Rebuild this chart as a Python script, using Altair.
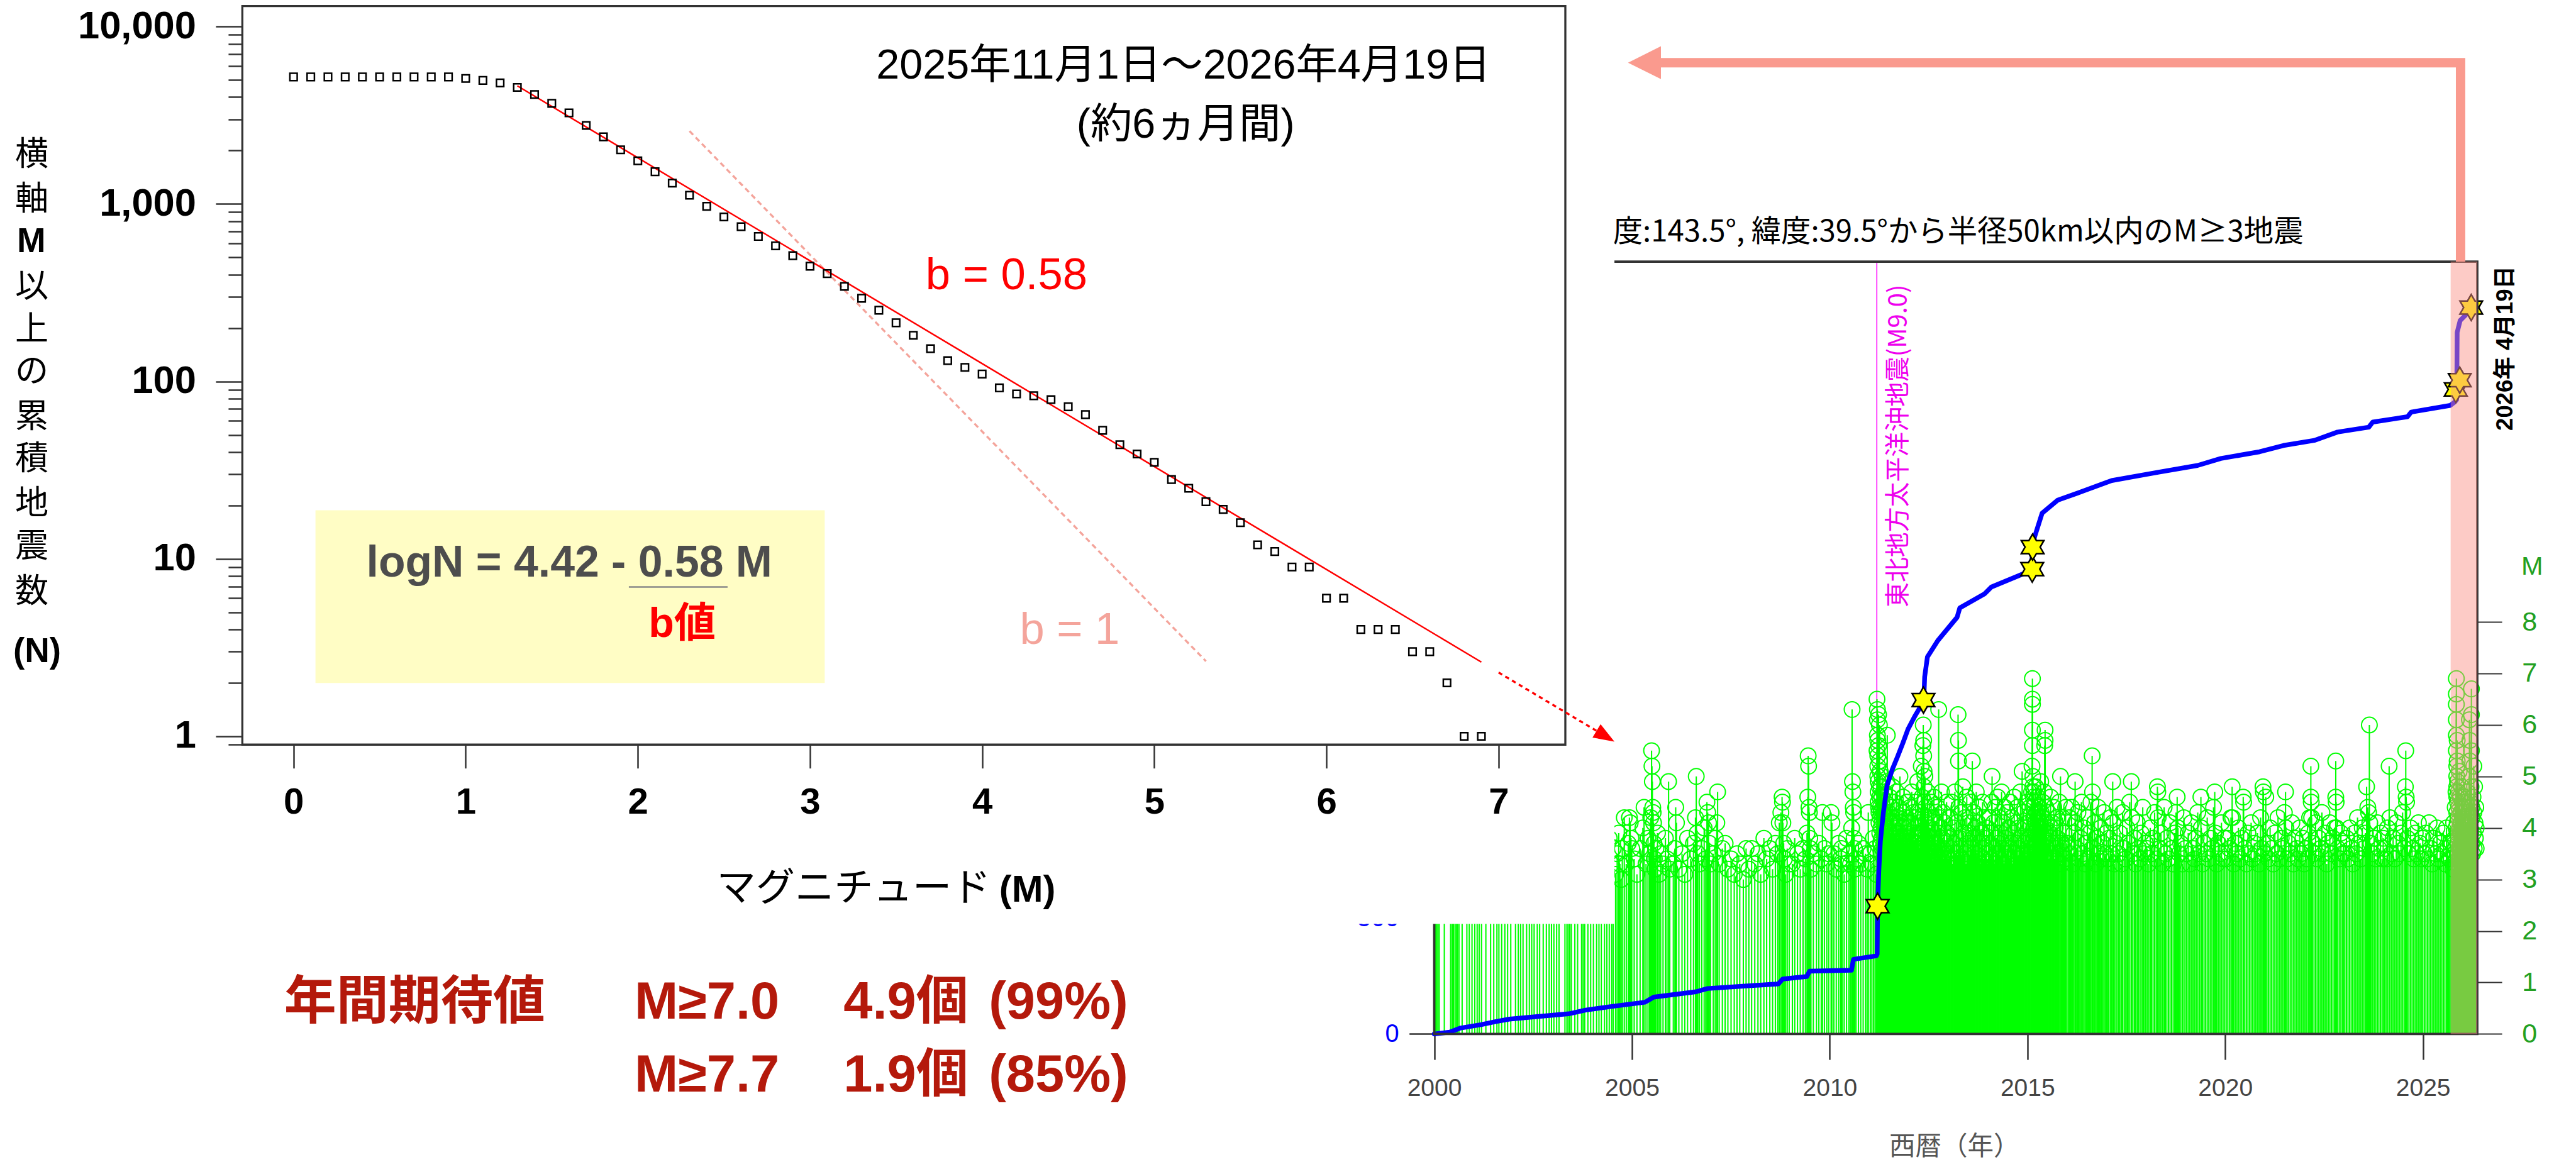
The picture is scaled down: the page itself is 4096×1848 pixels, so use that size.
import altair as alt
import pandas as pd

W, H = 4096, 1848
S = W / 4932.0          # reference pixel -> output pixel

CJK = "Noto Sans CJK JP"
MIX = "Liberation Sans, Noto Sans CJK JP"

# ================= LEFT PANEL DATA (cumulative count N of M >= value) =================
mag_bins = [0.0, 0.1, 0.2, 0.3, 0.4, 0.5, 0.6, 0.7, 0.8, 0.9,
            1.0, 1.1, 1.2, 1.3, 1.4, 1.5, 1.6, 1.7, 1.8, 1.9,
            2.0, 2.1, 2.2, 2.3, 2.4, 2.5, 2.6, 2.7, 2.8, 2.9,
            3.0, 3.1, 3.2, 3.3, 3.4, 3.5, 3.6, 3.7, 3.8, 3.9,
            4.0, 4.1, 4.2, 4.3, 4.4, 4.5, 4.6, 4.7, 4.8, 4.9,
            5.0, 5.1, 5.2, 5.3, 5.4, 5.5, 5.6, 5.7, 5.8, 5.9,
            6.0, 6.1, 6.2, 6.3, 6.4, 6.5, 6.6, 6.7, 6.8, 6.9]
cum_count = [5200, 5200, 5200, 5200, 5200, 5200, 5200, 5200, 5200, 5200,
             5100, 4970, 4810, 4540, 4140, 3690, 3260, 2770, 2390, 2020,
             1750, 1520, 1310, 1120, 970, 845, 745, 656, 581, 511,
             446, 405, 343, 294, 252, 214, 182, 153, 131, 120,
             110, 92, 85, 83, 79, 72, 65, 53, 44, 39,
             35, 28, 25, 21, 19, 16, 12, 11, 9, 9,
             6, 6, 4, 4, 4, 3, 3, 2, 1, 1]
fit_m = [1.3, 6.9]
fit_n = [4634, 2.62]
ext_m = [7.0, 7.6]
ext_n = [2.29, 1.03]
tip_m = [7.673]
tip_n = [0.933]
b1_m = [2.3, 5.3]
b1_n = [2576, 2.65]

# ================= RIGHT PANEL DATA =================
# events: "hh:MM" -> time = year + hh/100, magnitude = MM/10
EVENTS = {
    2000: "03:34 06:31 09:36 12:33 25:32 41:35 45:38 48:31 52:34 55:37 58:32 62:36 70:33 82:35 88:31 95:38",
    2001: "02:33 08:36 13:31 19:34 30:37 42:32 50:35 58:33 63:39 70:31 78:34 85:36 93:32",
    2002: "05:35 12:31 18:34 24:37 33:32 40:36 46:33 52:31 60:38 66:34 75:32 83:35 90:33 96:36",
    2003: "02:31 09:34 15:37 30:32 35:35 38:39 42:33 46:31 55:36 62:34 72:32 76:37 80:33 88:35 95:31",
    2004: "02:34 10:32 16:36 22:33 30:35 36:31 42:38 48:33 52:36 58:31 62:35 66:39 69:33 72:30 75:36 80:42 85:33 90:37 93:42 95:41 97:38 99:36",
    2005: "05:34 12:31 20:36 27:40 30:44 35:33 40:38 44:35 47:42 49:55 50:52 51:49 52:44 53:43 54:41 55:37 56:34 58:32 60:36 64:39 68:31 72:35 78:33 84:38 88:34 92:49 95:32",
    2006: "04:33 08:36 10:44 12:41 18:32 26:35 33:31 40:38 48:34 55:37 60:42 62:50 64:39 66:35 70:33 76:36 82:40 86:34 89:45 91:43 93:41 95:37 98:33",
    2007: "05:35 10:38 14:41 16:47 20:33 28:36 35:37 42:32 50:34 58:31 65:35 72:33 81:30 88:36 95:32",
    2008: "02:36 10:33 18:35 25:31 33:38 40:34 48:36 55:32 62:37 68:35 72:41 76:43 79:46 80:45 81:41 83:37 85:34 88:31 92:36 97:33",
    2009: "05:33 11:38 18:35 25:32 32:36 38:34 42:39 44:46 45:54 46:52 47:44 48:43 49:38 50:36 52:32 58:35 66:33 72:37 78:34 81:43 86:36 92:33 97:35",
    2010: "03:43 05:41 10:35 16:32 22:37 27:34 29:36 31:33 36:31 42:38 48:35 52:33 55:40 56:63 57:49 58:47 59:44 60:43 61:38 62:36 63:32 66:34 72:37 78:33 84:36 90:35 94:32 97:43",
    2011: "02:35 06:33 10:38 14:36 17:31 19:65 19:55 20:63 20:61 20:58 21:57 21:54 21:52 21:50 22:49 22:47 22:45 23:62 23:56 23:44 24:43 24:41 25:60 25:53 25:48 26:39 26:46 27:42 27:51 28:37 28:44 29:40 29:48 30:35 30:43 31:38 31:46 32:41 32:50 33:36 34:44 35:39 36:47 37:34 38:42 39:37 40:45 41:33 42:40 43:36 44:49 45:58 46:38 47:43 48:35 49:41 50:37 51:46 52:33 53:39 54:44 55:36 56:42 57:34 58:48 59:38 60:40 61:35 62:45 63:37 64:33 65:41 66:39 67:36 68:47 69:34 70:42 71:38 72:35 73:44 74:32 75:39 76:37 77:50 78:34 79:41 80:36 81:33 82:43 83:38 84:35 85:46 86:32 87:40 88:37 89:34 90:42 91:36 92:39 93:33 94:45 95:35 96:38 97:41 98:34 99:37",
    2012: "00:40 01:35 02:38 03:44 04:33 05:41 06:36 07:47 08:34 10:39 11:43 12:35 13:37 15:42 16:33 17:45 18:36 20:38 21:34 22:49 24:37 25:41 26:33 28:36 29:43 30:35 31:52 32:39 33:46 34:34 35:56 36:60 37:54 37:57 38:51 38:48 39:45 39:42 40:50 41:38 42:44 43:36 44:41 45:35 47:47 48:33 49:39 50:43 52:36 53:40 54:34 56:45 57:37 59:42 60:33 62:38 63:46 65:35 66:41 68:37 69:34 71:44 72:39 74:36 75:63 76:42 77:35 79:40 80:33 82:47 83:38 85:36 86:43 88:34 90:41 91:37 93:35 95:45 96:39 98:34",
    2013: "00:38 02:34 04:42 06:36 08:45 10:33 12:40 14:37 16:47 18:35 20:41 22:34 24:62 25:57 25:53 26:44 28:38 30:36 32:43 34:34 36:48 38:39 40:35 42:42 44:33 46:46 48:37 50:41 52:34 54:39 56:45 58:36 60:53 62:38 64:43 66:35 68:40 70:47 72:34 74:41 76:37 78:44 80:33 82:39 84:36 86:45 88:34 90:42 92:38 94:35 96:40 98:33",
    2014: "01:37 03:42 05:34 07:39 09:45 10:50 12:36 14:41 16:33 18:44 20:38 22:35 24:46 26:37 28:42 30:34 32:39 34:47 36:36 38:41 40:33 42:44 44:38 46:35 48:43 50:36 52:40 54:34 56:45 58:37 60:42 62:33 64:39 66:46 68:35 70:41 72:37 74:44 76:34 78:40 80:36 82:47 84:38 86:51 88:35 90:43 92:37 94:40 96:34 98:45",
    2015: "00:36 02:41 04:38 06:44 08:35 10:47 11:52 12:69 12:65 12:64 12:59 12:56 13:50 13:48 14:46 14:44 15:42 15:40 16:38 16:47 17:36 17:43 18:39 18:45 19:35 20:41 20:48 21:37 22:43 23:34 24:40 25:46 26:36 27:42 28:38 29:44 30:35 31:41 32:37 33:49 34:43 35:36 36:40 37:34 38:45 39:38 40:42 41:35 42:47 43:56 44:59 44:57 45:39 46:44 47:36 48:41 50:37 52:43 54:34 56:39 58:46 60:35 62:41 64:37 66:44 68:34 70:40 72:36 74:42 76:38 78:35 80:45 83:50 84:37 86:33 88:42 90:36 92:39 94:34 96:44 98:37",
    2016: "02:37 05:42 08:35 11:44 14:33 17:39 20:49 21:41 24:36 27:43 30:34 33:38 36:45 39:35 42:40 45:33 48:37 51:42 54:34 57:39 60:45 63:54 64:47 66:36 69:41 72:33 75:38 78:44 81:35 84:40 87:34 90:37 93:43 96:35 99:39",
    2017: "02:34 05:38 09:42 12:35 15:49 16:41 19:33 23:37 26:44 30:35 33:39 37:33 40:43 44:36 47:34 51:40 54:37 58:45 62:49 63:42 66:35 70:38 73:33 77:41 80:36 84:34 87:39 91:44 94:35 98:37",
    2018: "02:36 06:33 10:40 13:35 17:38 21:43 25:34 28:48 29:47 30:42 33:36 37:39 41:33 45:44 48:35 52:38 56:34 60:41 64:36 68:33 72:39 75:43 78:46 80:40 83:35 87:37 91:33 95:42 98:36",
    2019: "02:35 06:39 10:33 14:41 18:36 22:34 26:38 30:43 34:35 38:46 39:40 42:33 46:37 50:35 54:42 58:34 62:38 66:36 70:44 73:47 75:39 78:33 82:37 86:35 90:41 94:34 98:38",
    2020: "02:34 06:38 10:36 14:42 17:48 18:42 21:33 25:37 29:35 33:40 37:34 41:38 45:46 46:45 49:36 53:33 57:39 61:35 65:41 69:34 73:37 77:35 81:39 85:33 89:42 92:36 95:48 96:47 99:35",
    2021: "02:46 05:37 09:34 13:40 17:36 21:33 25:39 29:35 33:42 37:34 41:38 45:36 49:43 52:47 53:40 56:34 60:37 64:35 68:41 72:33 76:38 80:36 84:34 88:40 92:35 96:38 99:33",
    2022: "02:36 06:34 10:39 13:42 16:52 16:46 17:45 18:42 20:37 24:35 28:41 32:34 36:38 40:36 44:43 48:35 52:39 56:33 60:37 64:41 68:35 72:38 76:40 79:53 79:46 80:45 81:40 84:36 88:34 92:39 96:35 99:37",
    2023: "02:35 06:38 10:34 14:40 18:36 22:33 26:39 30:35 34:42 38:37 42:34 46:40 50:36 54:39 57:48 60:44 62:43 64:60 65:41 68:37 72:35 76:38 80:34 84:41 88:36 92:39 96:34 99:38",
    2024: "02:36 06:34 10:40 14:52 16:42 20:35 24:38 28:34 32:41 36:37 40:35 44:39 48:43 52:36 55:48 56:55 57:46 58:45 60:38 64:35 68:40 72:36 76:34 80:39 84:35 88:41 92:37 96:34 99:38",
    2025: "03:35 07:39 11:34 15:41 19:36 23:33 27:38 31:35 35:40 39:34 43:37 47:35 51:39 55:33 59:40 62:36 65:34 68:37 71:34 73:37 75:32 77:41 79:35 80:38 81:44 82:36 83:47 83:40 84:69 84:66 84:64 84:61 84:58 84:55 85:52 85:50 85:48 85:46 85:43 86:41 86:39 86:57 86:53 87:37 87:45 87:49 88:35 88:42 89:33 89:47 90:38 90:44 91:36 91:51 92:40 93:34 93:46 94:39 95:36 95:43 96:41 97:35 97:48 98:38 99:33 99:45",
    2026: "00:42 01:37 02:34 03:46 04:39 05:36 06:44 07:33 08:41 09:38 10:35 11:47 12:40 13:36 14:43 15:34 16:50 17:61 18:57 18:53 19:45 20:39 21:48 22:67 22:62 22:55 23:44 23:37 24:42 25:35 26:46 27:39 28:52 28:43 29:36 30:48 31:41 32:38 33:44 34:36 34:40",
}

# cumulative number of M>=3 events (blue curve)
curve_t = [2000.00, 2000.39, 2000.65, 2001.18, 2001.54, 2001.90, 2002.60, 2003.40, 2003.83, 2004.55,
           2005.33, 2005.55, 2006.62, 2006.91, 2008.70, 2008.81, 2009.42, 2009.49, 2010.55, 2010.60,
           2011.18, 2011.20, 2011.21, 2011.24, 2011.28, 2011.36, 2011.45, 2011.58, 2011.71, 2011.85,
           2011.98, 2012.15, 2012.36, 2012.38, 2012.40, 2012.47, 2012.73, 2013.22, 2013.29, 2013.92,
           2014.09, 2014.80, 2015.10, 2015.13, 2015.18, 2015.37, 2015.76, 2016.35, 2017.13, 2018.32,
           2019.30, 2019.89, 2020.87, 2021.47, 2022.25, 2022.84, 2023.63, 2023.73, 2024.61, 2024.70,
           2025.69, 2025.80, 2025.85, 2025.855, 2025.86, 2025.865, 2025.94, 2026.07, 2026.22]
curve_n = [0, 8, 25, 40, 53, 64, 75, 87, 103, 120,
           137, 159, 182, 196, 216, 237, 248, 271, 275, 322,
           337, 345, 551, 700, 831, 960, 1072, 1140, 1194, 1255,
           1315, 1370, 1430, 1446, 1540, 1626, 1696, 1797, 1838, 1899,
           1928, 1978, 2000, 2100, 2144, 2246, 2302, 2338, 2387, 2423,
           2452, 2482, 2511, 2538, 2560, 2596, 2617, 2639, 2662, 2682,
           2711, 2725, 2735, 2800, 2900, 3026, 3077, 3099, 3133]
star_t = [2011.21, 2012.37, 2015.12, 2015.13, 2025.83, 2025.93, 2026.22]
star_n = [551, 1440, 2005, 2100, 2780, 2820, 3133]
tohoku_t = 2011.19
focus_start = 2025.70

# ================= helpers: reference-pixel positions -> data coordinates (annotations) =================
def mx(px): return (px - 562.0) / 329.6
def ny(py): return 10 ** ((1410.0 - py) / 339.8)
def yr(px): return 2000.0 + (px - 2746.0) / 75.72
def mg(py): return (1980.0 - py) / 98.63
def ct(py): return (1980.0 - py) * 500.0 / 222.0

LX = alt.Scale(domain=[mx(464), mx(2997)], range=[464 * S, 2997 * S], nice=False, zero=False)
LY = alt.Scale(type="log", domain=[ny(1426), ny(11.5)], range=[1426 * S, 11.5 * S], nice=False)
RX = alt.Scale(domain=[2000.0, yr(4743)], range=[2746 * S, 4743 * S], nice=False, zero=False)
RM = alt.Scale(domain=[0.0, mg(501)], range=[1980 * S, 501 * S], nice=False, zero=False)
RC = alt.Scale(domain=[0.0, ct(503)], range=[1980 * S, 503 * S], nice=False, zero=False)

common = dict(domain=False, grid=False, title=None, labelFont="Liberation Sans",
              tickColor="#333333", labelOverlap=False, labelFlush=False, labelLimit=2000)
AX_L = alt.Axis(orient="bottom", offset=1426 * S - H, values=[0, 1, 2, 3, 4, 5, 6, 7], format="d",
                tickSize=45 * S, tickWidth=3 * S, labelFontSize=70 * S, labelFontWeight="bold",
                labelColor="black", labelPadding=31 * S, zindex=1, **common)
AY_L = alt.Axis(orient="left", offset=-464 * S, values=[1, 10, 100, 1000, 10000], format=",d",
                tickSize=51 * S, tickWidth=3 * S, labelFontSize=74 * S, labelFontWeight="bold",
                labelColor="black", labelPadding=38 * S, zindex=1, **common)
minor_vals = [0.9] + [d * 10 ** k for k in range(4) for d in range(2, 10)]
AY_LM = alt.Axis(orient="left", offset=-464 * S, values=minor_vals, labels=False,
                 tickSize=27 * S, tickWidth=3 * S, zindex=1, **common)
AX_R = alt.Axis(orient="bottom", offset=1980 * S - H, values=[2000, 2005, 2010, 2015, 2020, 2025],
                format="d", tickSize=49 * S, tickWidth=3 * S, labelFontSize=47 * S,
                labelColor="#444444", labelPadding=32 * S, zindex=0, **common)
AY_M = alt.Axis(orient="right", offset=4743 * S - W, values=list(range(9)), format="d",
                tickSize=47 * S, tickWidth=2.5 * S, labelFontSize=52 * S, labelColor="#22a022",
                labelPadding=38 * S, zindex=0, **common)
AY_C = alt.Axis(orient="left", offset=-2746 * S, values=[0, 500, 1000, 1500, 2000, 2500, 3000],
                format="d", tickSize=48 * S, tickWidth=3 * S, labelFontSize=48 * S,
                labelColor="#0000ff", labelPadding=20 * S, zindex=0, **common)

def X(f, sc, ax):
    return alt.X(f, scale=sc, axis=ax)

def Y(f, sc, ax):
    return alt.Y(f, scale=sc, axis=ax)

def text_layer(rows, sx, ax_x, sy, ax_y, **mk):
    df = pd.DataFrame(rows, columns=["x", "y", "t"])
    return alt.Chart(df).mark_text(**mk).encode(
        x=X("x:Q", sx, ax_x), y=Y("y:Q", sy, ax_y), text="t:N")

# ---------- events table ----------
ev_t, ev_m = [], []
for year, s in EVENTS.items():
    for tok in s.split():
        a, b = tok.split(":")
        ev_t.append(year + int(a) / 100.0 + 0.005)
        ev_m.append(int(b) / 10.0)
ev = pd.DataFrame({"t": ev_t, "m": ev_m, "z": 0.0})

# ================= GROUP R1: magnitude stems (year x M) =================
r1_mline = alt.Chart(pd.DataFrame({"t": [tohoku_t], "a": [0.0], "b": [mg(501)]})).mark_rule(
    color="#ff33ff", strokeWidth=2.2 * S).encode(
    x=X("t:Q", RX, AX_R), y=Y("a:Q", RM, AY_M), y2="b:Q")
r1_mtext = text_layer([[yr(3635), mg(854), "東北地方太平洋沖地震(M9.0)"]], RX, AX_R, RM, AY_M,
                      angle=270, font=CJK, fontSize=48 * S, color="#ee00ee",
                      align="center", baseline="middle")
r1_stem = alt.Chart(ev).mark_rule(color="#00ff00", strokeWidth=2.5 * S).encode(
    x=X("t:Q", RX, AX_R), y=Y("z:Q", RM, AY_M), y2="m:Q")
r1_circ = alt.Chart(ev).mark_point(shape="circle", filled=False, color="#00ff00",
                                   size=(30 * S) ** 2, strokeWidth=2.4 * S, opacity=1).encode(
    x=X("t:Q", RX, AX_R), y=Y("m:Q", RM, AY_M))
R1 = alt.layer(r1_mline, r1_mtext, r1_stem, r1_circ)

# ================= GROUP R2: cumulative count =================
cdf = pd.DataFrame({"t": curve_t, "n": curve_n, "i": list(range(len(curve_t)))})
r2_line = alt.Chart(cdf).mark_line(color="#0000ff", strokeWidth=9 * S, strokeJoin="round",
                                   strokeCap="round").encode(
    x=X("t:Q", RX, None), y=Y("n:Q", RC, AY_C), order="i:Q")
HEX = ("M0,-1L0.289,-0.5L0.866,-0.5L0.577,0L0.866,0.5L0.289,0.5L0,1L-0.289,0.5"
       "L-0.866,0.5L-0.577,0L-0.866,-0.5L-0.289,-0.5Z")
r2_star = alt.Chart(pd.DataFrame({"t": star_t, "n": star_n})).mark_point(
    shape=HEX, filled=True, fill="#ffff00", stroke="#000000", strokeWidth=3 * S,
    size=(50 * S) ** 2, opacity=1).encode(x=X("t:Q", RX, None), y=Y("n:Q", RC, AY_C))
R2 = alt.layer(r2_line, r2_star)

# ================= GROUP R3: frame, highlight, texts, cover =================
def rect_df(a, b, c, d):
    return pd.DataFrame({"a": [a], "b": [b], "c": [c], "d": [d]})

r3_frame = alt.Chart(rect_df(2000.0, yr(4743), 0.0, mg(501))).mark_rect(
    fillOpacity=0, stroke="#333333", strokeWidth=4.5 * S).encode(
    x=X("a:Q", RX, None), x2="b:Q", y=Y("c:Q", RM, None), y2="d:Q")
r3_pink = alt.Chart(rect_df(focus_start, yr(4743), 0.0, mg(501))).mark_rect(
    color="#fa9288", opacity=0.48).encode(
    x=X("a:Q", RX, None), x2="b:Q", y=Y("c:Q", RM, None), y2="d:Q")
arrow_df = pd.DataFrame({"x": [yr(4711), yr(4711), yr(3180)],
                         "y": [mg(501), mg(120), mg(120)], "i": [0, 1, 2]})
r3_arrow = alt.Chart(arrow_df).mark_line(color="#fa9a8e", strokeWidth=18 * S, strokeJoin="miter",
                                         strokeCap="butt").encode(
    x=X("x:Q", RX, None), y=Y("y:Q", RM, None), order="i:Q")
r3_head = alt.Chart(pd.DataFrame({"x": [yr(3117)], "y": [mg(120)]})).mark_point(
    shape="M0,0L2,-1L2,1Z", filled=True, color="#fa9a8e", size=(63 * S) ** 2, opacity=1).encode(
    x=X("x:Q", RX, None), y=Y("y:Q", RM, None))
r3_title = text_layer([[yr(4410), mg(446), "経度:143.5°, 緯度:39.5°から半径50km以内のM≥3地震"]],
                      RX, None, RM, None, font=CJK, fontSize=57 * S, color="black",
                      align="right", baseline="middle")
r3_date = text_layer([[yr(4797), mg(667), "2026年 4月19日"]], RX, None, RM, None,
                     angle=270, font=MIX, fontSize=44 * S, fontWeight="bold", color="black",
                     align="center", baseline="middle")
r3_mlab = text_layer([[yr(4848), mg(1086), "M"]], RX, None, RM, None, font="Liberation Sans",
                     fontSize=50 * S, color="#22a022", align="center", baseline="middle")
r3_xtitle = text_layer([[yr(3742), mg(2197), "西暦（年）"]], RX, None, RM, None, font=CJK,
                       fontSize=50 * S, color="#555555", align="center", baseline="middle")
r3_cover = alt.Chart(rect_df(1960.0, yr(3091), mg(1769), mg(-60))).mark_rect(
    color="white", opacity=1).encode(
    x=X("a:Q", RX, None), x2="b:Q", y=Y("c:Q", RM, None), y2="d:Q")
R3 = alt.layer(r3_frame, r3_pink, r3_arrow, r3_head, r3_title, r3_date, r3_mlab, r3_xtitle, r3_cover)

# ================= GROUP L: Gutenberg-Richter plot =================
def LXe(f): return X(f, LX, AX_L)
def LYe(f): return Y(f, LY, AY_L)

l_frame = alt.Chart(rect_df(mx(464), mx(2997), ny(1426), ny(11.5))).mark_rect(
    fillOpacity=0, stroke="#333333", strokeWidth=4 * S).encode(
    x=LXe("a:Q"), x2="b:Q", y=LYe("c:Q"), y2="d:Q")
l_box = alt.Chart(rect_df(mx(604), mx(1579), ny(1308), ny(977))).mark_rect(
    color="#fffdc5", opacity=1).encode(x=LXe("a:Q"), x2="b:Q", y=LYe("c:Q"), y2="d:Q")
l_b1 = alt.Chart(pd.DataFrame({"m": b1_m, "n": b1_n, "i": [0, 1]})).mark_line(
    color="#f4a49b", strokeWidth=4 * S, strokeDash=[10 * S, 7 * S]).encode(
    x=LXe("m:Q"), y=LYe("n:Q"), order="i:Q")
l_fit = alt.Chart(pd.DataFrame({"m": fit_m, "n": fit_n, "i": [0, 1]})).mark_line(
    color="#ff0000", strokeWidth=3 * S).encode(x=LXe("m:Q"), y=LYe("n:Q"), order="i:Q")
l_ext = alt.Chart(pd.DataFrame({"m": ext_m, "n": ext_n, "i": [0, 1]})).mark_line(
    color="#ff0000", strokeWidth=4 * S, strokeDash=[8 * S, 7 * S]).encode(
    x=LXe("m:Q"), y=LYe("n:Q"), order="i:Q")
l_tip = alt.Chart(pd.DataFrame({"m": tip_m, "n": tip_n})).mark_point(
    shape="M0,0L-2,-0.75L-2,0.75Z", filled=True, color="#ff0000", size=(40 * S) ** 2,
    angle=31, opacity=1).encode(x=LXe("m:Q"), y=LYe("n:Q"))
l_sq = alt.Chart(pd.DataFrame({"m": mag_bins, "n": cum_count})).mark_point(
    shape="square", filled=False, color="black", size=(14 * S) ** 2, strokeWidth=3 * S,
    opacity=1).encode(x=LXe("m:Q"), y=LYe("n:Q"))
l_under = alt.Chart(pd.DataFrame({"a": [mx(1204)], "b": [mx(1393)], "y": [ny(1124)]})).mark_rule(
    color="#888888", strokeWidth=3 * S).encode(x=LXe("a:Q"), x2="b:Q", y=LYe("y:Q"))

def ltext(rows, **mk):
    return text_layer(rows, LX, AX_L, LY, AY_L, **mk)

l_period = ltext([[mx(2266), ny(127), "2025年11月1日〜2026年4月19日"],
                  [mx(2270), ny(240), "(約6ヵ月間)"]],
                 font=MIX, fontSize=80 * S, color="black", align="center", baseline="middle")
l_b058 = ltext([[mx(1927), ny(529), "b = 0.58"]], font="Liberation Sans", fontSize=85 * S,
               color="#ff0000", align="center", baseline="middle")
l_b1t = ltext([[mx(2048), ny(1208), "b = 1"]], font="Liberation Sans", fontSize=85 * S,
              color="#f4a49b", align="center", baseline="middle")
l_eq = ltext([[mx(1090), ny(1079), "logN = 4.42 - 0.58 M"]], font="Liberation Sans",
             fontSize=84 * S, fontWeight="bold", color="#4d4d4d", align="center", baseline="middle")
l_bval = ltext([[mx(1306), ny(1196), "b値"]], font=MIX, fontSize=80 * S, fontWeight="bold",
               color="#ff0000", align="center", baseline="middle")
l_xt1 = ltext([[mx(1897), ny(1702), "マグニチュード"]], font=CJK, fontSize=75 * S,
              color="black", align="right", baseline="middle")
l_xt2 = ltext([[mx(1913), ny(1705), "(M)"]], font="Liberation Sans", fontSize=72 * S,
              fontWeight="bold", color="black", align="left", baseline="middle")
ychars = [[297, "横"], [383, "軸"], [550, "以"], [632, "上"], [713, "の"], [799, "累"],
          [880, "積"], [966, "地"], [1048, "震"], [1134, "数"]]
l_yt1 = ltext([[mx(61), ny(p), c] for p, c in ychars], font=CJK, fontSize=64 * S,
              color="black", align="center", baseline="middle")
l_yt2 = ltext([[mx(60), ny(464), "M"], [mx(71), ny(1249), "(N)"]], font="Liberation Sans",
              fontSize=66 * S, fontWeight="bold", color="black", align="center", baseline="middle")
RED = "#b4190b"
l_red1 = ltext([[mx(544), ny(1920), "年間期待値"]], font=CJK, fontSize=100 * S, fontWeight="bold",
               color=RED, align="left", baseline="middle")
l_red2 = ltext([[mx(1215), ny(1920), "M≥7.0"], [mx(1615), ny(1920), "4.9個"],
                [mx(1893), ny(1920), "(99%)"],
                [mx(1215), ny(2060), "M≥7.7"], [mx(1615), ny(2060), "1.9個"],
                [mx(1893), ny(2060), "(85%)"]],
               font=MIX, fontSize=100 * S, fontWeight="bold", color=RED, align="left",
               baseline="middle")
L = alt.layer(l_frame, l_box, l_b1, l_fit, l_ext, l_tip, l_sq, l_under, l_period, l_b058,
              l_b1t, l_eq, l_bval, l_xt1, l_xt2, l_yt1, l_yt2, l_red1, l_red2)

# ================= GROUP LM: minor log ticks =================
LM = alt.Chart(pd.DataFrame({"m": [1.0], "n": [100.0]})).mark_point(opacity=0).encode(
    x=X("m:Q", LX, None), y=Y("n:Q", LY, AY_LM))

chart = alt.layer(R1, R2, R3, L, LM).resolve_scale(
    x="independent", y="independent").resolve_axis(
    x="independent", y="independent").properties(
    width=W, height=H, autosize=alt.AutoSizeParams(type="none"), padding=0,
    background="white").configure_view(stroke="transparent")

chart.save("out.html", embed_options={"renderer": "svg", "actions": False})
